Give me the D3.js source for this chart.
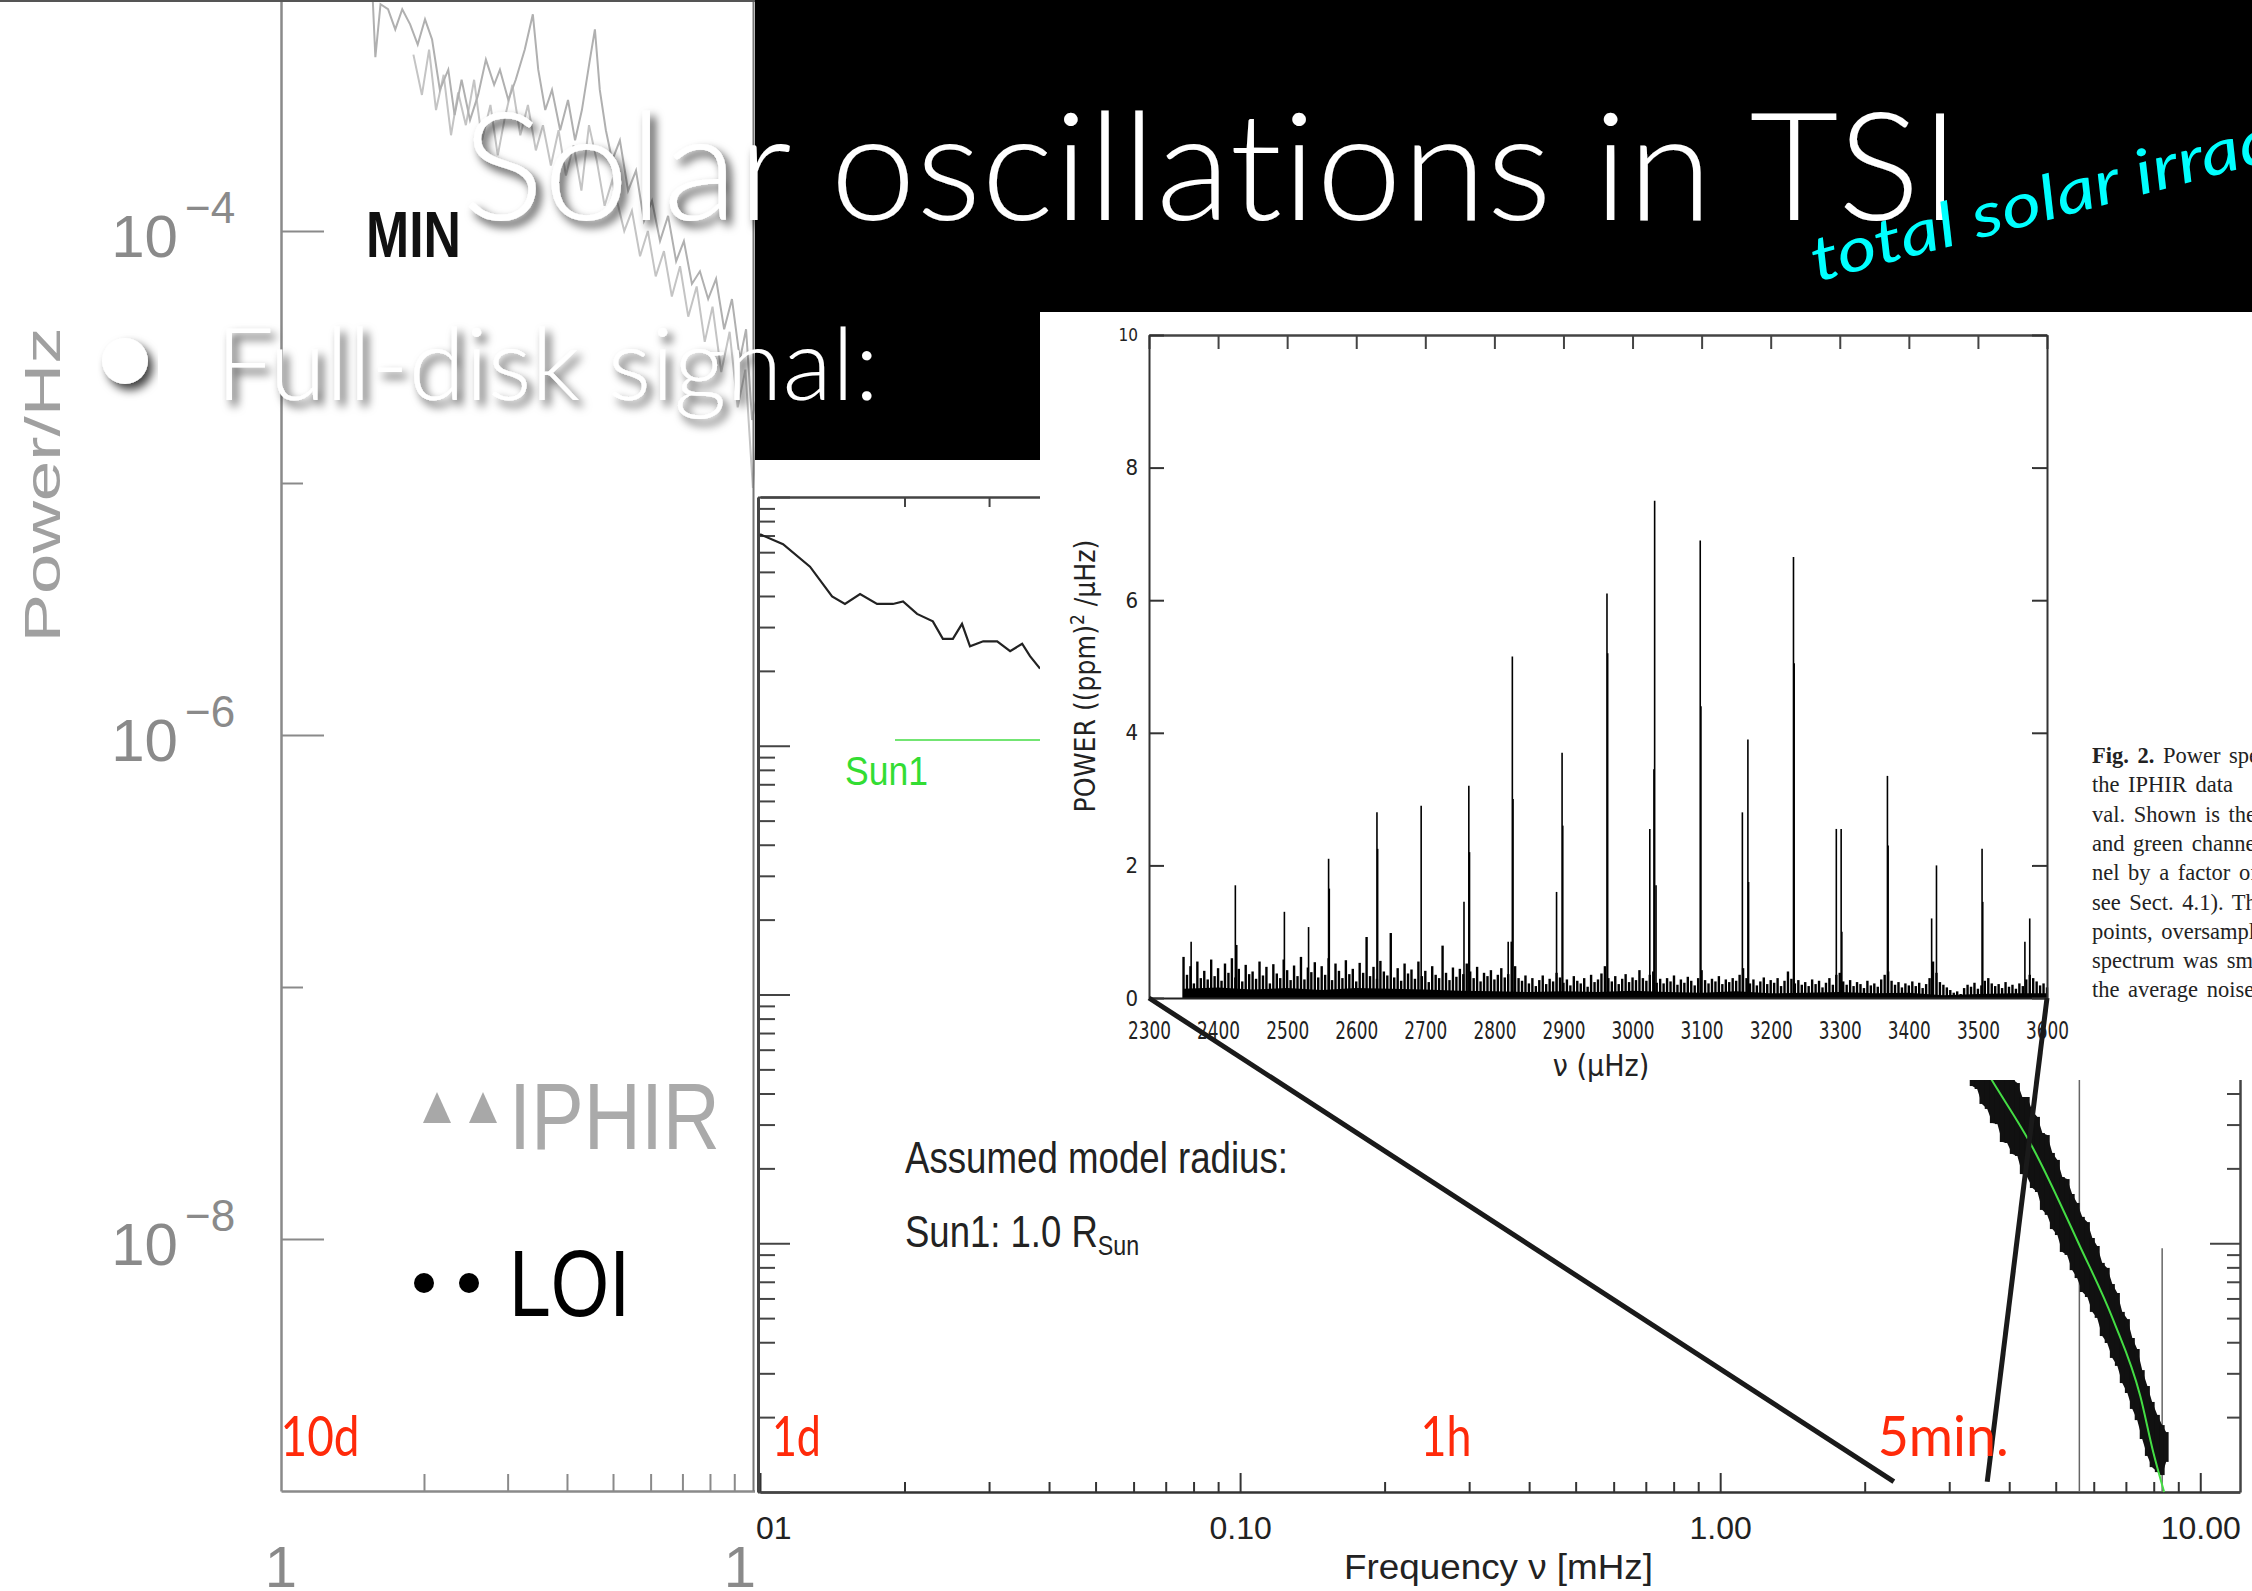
<!DOCTYPE html>
<html>
<head>
<meta charset="utf-8">
<script src="https://cdn.jsdelivr.net/npm/d3@7"></script>
<style>
html, body { margin: 0; padding: 0; background: #fff; overflow: hidden; }
svg { display: block; }
text { font-variant-ligatures: none; font-feature-settings: "liga" 0; }
</style>
</head>
<body>
<div id="chart"></div>
<script>
// ---------- left panel: low frequency spectrum (uHz, log10 power) ----------
const leftFreq = [1.47,1.56,1.58,1.62,1.68,1.74,1.80,1.87,1.94,2.01,2.08,2.16,2.25,2.32,2.40,2.50,2.60,2.70,2.81,2.89,3.01,3.12,3.26,3.39,3.48,3.60,3.72,3.87,4.02,4.16,4.30,4.47,4.58,4.69,4.83,4.98,5.17,5.38,5.59,5.81,6.04,6.28,6.53,6.79,7.05,7.33,7.62,7.93,8.24,8.57,8.90,9.25,9.53,9.81,10.0];
const leftPow = [-3.04,-3.08,-3.31,-3.10,-3.12,-3.20,-3.12,-3.18,-3.26,-3.16,-3.24,-3.44,-3.36,-3.54,-3.40,-3.56,-3.46,-3.32,-3.42,-3.36,-3.48,-3.40,-3.28,-3.14,-3.36,-3.52,-3.44,-3.60,-3.48,-3.64,-3.52,-3.32,-3.20,-3.44,-3.60,-3.72,-3.64,-3.84,-3.76,-3.96,-3.88,-4.04,-3.94,-4.12,-4.04,-4.21,-4.16,-4.27,-4.19,-4.39,-4.27,-4.51,-4.39,-4.75,-4.67];
const leftFreq2 = [1.90,1.98,2.05,2.12,2.20,2.28,2.36,2.45,2.55,2.65,2.76,2.86,2.96,3.07,3.19,3.31,3.44,3.56,3.70,3.84,3.98,4.13,4.29,4.45,4.62,4.80,4.98,5.28,5.48,5.70,5.92,6.15,6.40,6.65,6.92,7.20,7.50,7.80,8.10,8.45,8.80,9.15,9.50,9.85,10.0];
const leftPow2 = [-3.30,-3.46,-3.28,-3.52,-3.38,-3.62,-3.45,-3.58,-3.40,-3.64,-3.50,-3.70,-3.55,-3.42,-3.62,-3.50,-3.68,-3.58,-3.74,-3.60,-3.78,-3.66,-3.84,-3.58,-3.72,-3.90,-3.80,-4.00,-3.92,-4.10,-4.00,-4.18,-4.08,-4.26,-4.14,-4.34,-4.22,-4.44,-4.30,-4.56,-4.40,-4.70,-4.55,-5.02,-4.85];
const leftYMajor = [-4, -6, -8];
const leftYMinor = [-5, -7];
const leftXMinor = [2, 3, 4, 5, 6, 7, 8, 9];
const leftXLabels = ["1", "10"];
const leftXLabelVals = [1, 10];

// ---------- middle panel: full spectrum (mHz, log10 power) ----------
const midFreq = [0.0100,0.01117,0.01271,0.01413,0.01503,0.01616,0.01753,0.01892,0.01986,0.02124,0.02291,0.02404,0.02522,0.02635,0.02738,0.02917,0.03119,0.03319,0.03516,0.03651,0.03831];
const midPow = [3.85,3.81,3.72,3.60,3.57,3.61,3.57,3.57,3.58,3.53,3.50,3.43,3.43,3.49,3.40,3.42,3.42,3.38,3.41,3.36,3.31];
const bandFreq = [3.35,3.43,3.51,3.60,3.69,3.78,3.87,3.96,4.06,4.16,4.26,4.36,4.47,4.58,4.69,4.80,4.92,5.04,5.16,5.28,5.41,5.54,5.68,5.82,5.96,6.10,6.25,6.40,6.56,6.72,6.88,7.05,7.22,7.39,7.57,7.76,7.94,8.14,8.33,8.49];
const bandHi = [1.926,1.914,1.853,1.853,1.797,1.773,1.713,1.717,1.660,1.644,1.588,1.588,1.532,1.508,1.443,1.435,1.363,1.335,1.266,1.258,1.198,1.162,1.106,1.085,1.021,0.989,0.921,0.901,0.836,0.800,0.724,0.695,0.619,0.575,0.490,0.426,0.362,0.310,0.269,0.241];
const bandLo = [1.632,1.620,1.560,1.540,1.483,1.479,1.407,1.403,1.359,1.351,1.278,1.266,1.222,1.206,1.134,1.114,1.057,1.033,0.965,0.953,0.892,0.860,0.804,0.784,0.724,0.700,0.627,0.599,0.539,0.507,0.438,0.398,0.334,0.289,0.213,0.145,0.100,0.080,0.068,0.121];
const fitFreq = [3.20,3.69,4.47,5.60,6.59,7.50,7.98,8.41];
const fitPow = [1.85,1.652,1.387,0.993,0.691,0.386,0.161,0.0];
const refFreq = [5.60, 8.33];
const refTop = [2.2, 0.98];
const midXTicks = [0.01, 0.1, 1, 10];
const midXLabels = ["0.01", "0.10", "1.00", "10.00"];
const periodLabels = ["10d", "1d", "1h", "5min."];
const periodFreq = [1.157, 11.57, 277.8, 3333]; // uHz

// ---------- inset: IPHIR p-mode spectrum ----------
const insetXTicks = [2300,2400,2500,2600,2700,2800,2900,3000,3100,3200,3300,3400,3500,3600];
const insetYTicks = [0, 2, 4, 6, 8, 10];
const peakFreq = [2361,2425,2427,2496,2531,2560,2561,2630,2631,2694,2756,2763,2764,2820,2826,2827,2890,2898,2899,2963,2964,3025,3031,3032,3034,3098,3099,3159,3167,3168,3233,3234,3295,3302,3303,3369,3370,3433,3440,3506,3507,3568,3575];
const peakPow = [0.85,1.7,0.8,1.3,1.07,2.1,1.65,2.8,2.25,2.9,1.45,3.2,2.2,0.85,5.15,3.0,1.6,3.7,2.6,6.1,5.2,2.55,3.45,7.5,1.7,6.9,4.4,2.8,3.9,1.75,6.65,5.05,2.55,2.55,1.0,3.35,2.3,1.2,2.0,2.25,1.45,0.85,1.2];
const noisePow = [
0.62,0.35,0.48,0.22,0.55,0.30,0.41,0.28,0.58,0.33,0.45,0.26,0.52,0.38,0.60,0.31,0.44,0.25,0.50,0.36,
0.40,0.29,0.55,0.34,0.47,0.22,0.51,0.37,0.30,0.58,0.42,0.27,0.49,0.33,0.62,0.28,0.46,0.39,0.54,0.31,
0.48,0.35,0.60,0.27,0.52,0.41,0.30,0.57,0.36,0.44,0.25,0.53,0.38,0.92,0.33,0.47,0.29,0.56,0.40,0.34,
0.98,0.31,0.45,0.26,0.52,0.37,0.43,0.29,0.55,0.33,0.41,0.24,0.48,0.35,0.30,0.79,0.38,0.27,0.46,0.32,
0.44,0.36,0.52,0.40,0.30,0.47,0.25,0.38,0.33,0.42,0.28,0.35,0.45,0.31,0.36,0.85,0.48,0.30,0.26,0.34,
0.22,0.30,0.18,0.27,0.34,0.21,0.29,0.25,0.38,0.31,0.23,0.28,0.19,0.33,0.26,0.22,0.30,0.17,0.35,0.24,
0.28,0.37,0.48,0.30,0.25,0.33,0.21,0.29,0.36,0.24,0.31,0.27,0.42,0.30,0.26,0.35,0.40,0.23,0.29,0.22,
0.30,0.25,0.34,0.20,0.28,0.23,0.32,0.26,0.19,0.30,0.42,0.27,0.22,0.29,0.25,0.33,0.21,0.28,0.24,0.30,
0.26,0.35,0.45,0.30,0.22,0.28,0.19,0.25,0.31,0.21,0.27,0.23,0.30,0.18,0.26,0.40,0.29,0.22,0.27,0.20,
0.24,0.18,0.28,0.21,0.26,0.16,0.23,0.30,0.20,0.35,0.38,0.25,0.20,0.27,0.18,0.24,0.21,0.15,0.26,0.19,
0.22,0.17,0.28,0.35,0.40,0.26,0.20,0.24,0.16,0.22,0.19,0.25,0.18,0.23,0.15,0.21,0.30,0.55,0.38,0.24,
0.20,0.16,0.12,0.08,0.10,0.06,0.15,0.20,0.17,0.23,0.14,0.19,0.26,0.30,0.22,0.18,0.21,0.15,0.24,0.17,
0.20,0.14,0.22,0.18,0.28,0.35,0.30,0.25,0.19,0.22,0.16];
const noiseFreq = d3.range(2350, 3601, 5);
const floorPow = [0.14,0.16,0.13,0.15,0.12,0.15,0.14,0.13,0.11,0.10,0.09,0.10,0.09,0.11,0.09,0.08,0.10,0.07,0.08,0.09,0.07,0.08,0.04,0.06,0.07,0.07];
const floorFreq = d3.range(2350, 3601, 50);
const captionLines = ["Power spectrum", "the IPHIR data", "val. Shown is the", "and green channel", "nel by a factor of", "see Sect. 4.1). The", "points, oversampled", "spectrum was smoothed", "the average noise"];

function buildSlide() {

let W = 2252, H = 1591;
let sans = "'Liberation Sans', Arial, sans-serif";
let gill = "Lato, 'Open Sans', sans-serif";

let svg = d3.select("#chart").append("svg")
    .attr("width", W)
    .attr("height", H);

let defs = svg.append("defs");
defs.append("filter").attr("id", "shadow")
    .attr("x", "-10%").attr("y", "-40%").attr("width", "130%").attr("height", "190%")
    .append("feDropShadow")
    .attr("dx", 5).attr("dy", 6).attr("stdDeviation", 5)
    .attr("flood-color", "#000").attr("flood-opacity", 0.75);
defs.append("clipPath").attr("id", "clipLeft")
    .append("rect").attr("x", 0).attr("y", 0).attr("width", 755).attr("height", H);
defs.append("clipPath").attr("id", "clipMid")
    .append("rect").attr("x", 755).attr("y", 0).attr("width", W - 755).attr("height", H);

svg.append("rect").attr("width", W).attr("height", H).attr("fill", "#fff");

//---------------- middle plot ----------------
let midX = d3.scaleLog().domain([0.01, 12.1]).range([760, 2240]);
let midY = d3.scaleLog().domain([1, 1e4]).range([1492, 497]);
let mid = svg.append("g").attr("clip-path", "url(#clipMid)");

let midMinorX = [];
[0.01, 0.1, 1].forEach(d => { for (let k = 2; k <= 9; k++) midMinorX.push(d * k); });
let midMajorY = [1, 10, 100, 1000, 10000];
let midMinorY = [];
[1, 10, 100, 1000].forEach(d => { for (let k = 2; k <= 9; k++) midMinorY.push(d * k); });

function styleAxis(g, w) {
    g.select(".domain").attr("stroke-width", w);
    g.selectAll(".tick line").attr("stroke-width", 2);
}

let gxb = mid.append("g")
    .attr("transform", "translate(0,1492)")
    .attr("color", "#333")
    .call(d3.axisBottom(midX).tickValues(midXTicks).tickFormat((d, i) => midXLabels[i])
        .tickSizeInner(-19).tickSizeOuter(0).tickPadding(24));
styleAxis(gxb, 2.5);
gxb.selectAll("text").attr("font-family", sans).attr("font-size", 32).attr("fill", "#222");

mid.append("g").attr("transform", "translate(0,1492)").attr("color", "#333")
    .call(d3.axisBottom(midX).tickValues(midMinorX).tickFormat("").tickSizeInner(-10).tickSizeOuter(0))
    .call(g => styleAxis(g, 0));

mid.append("g").attr("transform", "translate(0,497)").attr("color", "#444")
    .call(d3.axisTop(midX).tickValues(midMinorX).tickFormat("").tickSizeInner(-10).tickSizeOuter(0))
    .call(g => styleAxis(g, 2.5));

mid.append("g").attr("transform", "translate(758,0)").attr("color", "#444")
    .call(d3.axisLeft(midY).tickValues(midMajorY).tickFormat("").tickSizeInner(-32).tickSizeOuter(0))
    .call(g => styleAxis(g, 3));
mid.append("g").attr("transform", "translate(758,0)").attr("color", "#444")
    .call(d3.axisLeft(midY).tickValues(midMinorY).tickFormat("").tickSizeInner(-17).tickSizeOuter(0))
    .call(g => styleAxis(g, 0));

mid.append("g").attr("transform", "translate(2240,0)").attr("color", "#444")
    .call(d3.axisRight(midY).tickValues(midMajorY).tickFormat("").tickSizeInner(-30).tickSizeOuter(0))
    .call(g => styleAxis(g, 2.5));
mid.append("g").attr("transform", "translate(2240,0)").attr("color", "#444")
    .call(d3.axisRight(midY).tickValues(midMinorY).tickFormat("").tickSizeInner(-13).tickSizeOuter(0))
    .call(g => styleAxis(g, 0));

// low-frequency part of the curve
let midLine = d3.line()
    .x((d, i) => midX(midFreq[i]))
    .y(d => midY(Math.pow(10, d)));
mid.append("path")
    .datum(midPow)
    .attr("d", midLine)
    .attr("fill", "none")
    .attr("stroke", "#222")
    .attr("stroke-width", 2.2);

// reference lines
mid.selectAll(".ref")
    .data(refFreq)
    .enter()
    .append("line")
    .attr("x1", d => midX(d)).attr("x2", d => midX(d))
    .attr("y1", midY(1))
    .attr("y2", (d, i) => midY(Math.pow(10, refTop[i])))
    .attr("stroke", "#666")
    .attr("stroke-width", 1.5);

// noisy p-mode band
let bandArea = d3.area()
    .x((d, i) => midX(bandFreq[i]))
    .y0((d, i) => midY(Math.pow(10, bandLo[i])))
    .y1(d => midY(Math.pow(10, d)));
mid.append("path").datum(bandHi).attr("d", bandArea).attr("fill", "#111");
mid.selectAll(".band")
    .data(bandHi)
    .enter()
    .append("line")
    .attr("x1", (d, i) => midX(bandFreq[i])).attr("x2", (d, i) => midX(bandFreq[i]))
    .attr("y1", d => midY(Math.pow(10, d)))
    .attr("y2", (d, i) => midY(Math.pow(10, bandLo[i])))
    .attr("stroke", "#111")
    .attr("stroke-width", 5);

// fit
let fitLine = d3.line()
    .x((d, i) => midX(fitFreq[i]))
    .y(d => midY(Math.pow(10, d)))
    .curve(d3.curveMonotoneX);
mid.append("path")
    .datum(fitPow)
    .attr("d", fitLine)
    .attr("fill", "none")
    .attr("stroke", "#44dd44")
    .attr("stroke-width", 2);

// legend and notes
mid.append("line")
    .attr("x1", 895).attr("x2", 1040).attr("y1", 740).attr("y2", 740)
    .attr("stroke", "#44dd44").attr("stroke-width", 1.5);
mid.append("text")
    .attr("x", 845).attr("y", 785)
    .attr("font-family", sans).attr("font-size", 40)
    .attr("textLength", 83).attr("lengthAdjust", "spacingAndGlyphs")
    .attr("fill", "#33dd33")
    .text("Sun1");

mid.append("text")
    .attr("x", 905).attr("y", 1173)
    .attr("font-family", sans).attr("font-size", 44)
    .attr("textLength", 383).attr("lengthAdjust", "spacingAndGlyphs")
    .attr("fill", "#222")
    .text("Assumed model radius:");

let sunText = mid.append("text")
    .attr("transform", "translate(905,1247) scale(0.83,1)")
    .attr("font-family", sans).attr("font-size", 44)
    .attr("fill", "#222");
sunText.append("tspan").text("Sun1: 1.0 R");
sunText.append("tspan").attr("font-size", 28).attr("dy", 8).text("Sun");

mid.append("text")
    .attr("x", 1344).attr("y", 1579)
    .attr("font-family", sans).attr("font-size", 35)
    .attr("textLength", 309).attr("lengthAdjust", "spacingAndGlyphs")
    .attr("fill", "#222")
    .text("Frequency \u03bd [mHz]");

//---------------- left plot ----------------
let leftX = d3.scaleLog().domain([1, 10]).range([281, 756]);
let leftY = d3.scaleLog().domain([1e-9, 1e-3]).range([1491, -21]);
let left = svg.append("g").attr("clip-path", "url(#clipLeft)");

let leftLine = d3.line()
    .x((d, i) => leftX(leftFreq[i]))
    .y(d => leftY(Math.pow(10, d)));
let leftLine2 = d3.line()
    .x((d, i) => leftX(leftFreq2[i]))
    .y(d => leftY(Math.pow(10, d)));
left.append("path").datum(leftPow2).attr("d", leftLine2)
    .attr("fill", "none").attr("stroke", "#c4c4c4").attr("stroke-width", 2);
left.append("path").datum(leftPow).attr("d", leftLine)
    .attr("fill", "none").attr("stroke", "#b0b0b0").attr("stroke-width", 2);

left.append("g").attr("transform", "translate(281,0)").attr("color", "#8a8a8a")
    .call(d3.axisLeft(leftY).tickValues(leftYMajor.map(e => Math.pow(10, e))).tickFormat("")
        .tickSizeInner(-43).tickSizeOuter(0))
    .call(g => styleAxis(g, 2.5));
left.append("g").attr("transform", "translate(281,0)").attr("color", "#8a8a8a")
    .call(d3.axisLeft(leftY).tickValues(leftYMinor.map(e => Math.pow(10, e))).tickFormat("")
        .tickSizeInner(-22).tickSizeOuter(0))
    .call(g => styleAxis(g, 0));
left.append("g").attr("transform", "translate(0,1491)").attr("color", "#8a8a8a")
    .call(d3.axisBottom(leftX).tickValues(leftXMinor).tickFormat("").tickSizeInner(-17).tickSizeOuter(0))
    .call(g => styleAxis(g, 2.5));
left.append("line")
    .attr("x1", 753.5).attr("x2", 753.5).attr("y1", 0).attr("y2", 1491)
    .attr("stroke", "#777").attr("stroke-width", 2);
left.append("line")
    .attr("x1", 0).attr("x2", 755).attr("y1", 1).attr("y2", 1)
    .attr("stroke", "#555").attr("stroke-width", 2);

// y tick labels 10^-n
left.selectAll(".ylab")
    .data(leftYMajor)
    .enter()
    .append("text")
    .attr("x", 178)
    .attr("y", d => leftY(Math.pow(10, d)) + 26)
    .attr("text-anchor", "end")
    .attr("font-family", sans)
    .attr("font-size", 60)
    .attr("fill", "#8a8a8a")
    .text("10");
left.selectAll(".ysup")
    .data(leftYMajor)
    .enter()
    .append("text")
    .attr("x", 185)
    .attr("y", d => leftY(Math.pow(10, d)) - 8)
    .attr("font-family", sans)
    .attr("font-size", 44)
    .attr("fill", "#8a8a8a")
    .text(d => "\u2212" + Math.abs(d));

left.selectAll(".xlab")
    .data(leftXLabels)
    .enter()
    .append("text")
    .attr("x", (d, i) => leftX(leftXLabelVals[i]))
    .attr("y", 1587)
    .attr("text-anchor", "middle")
    .attr("font-family", sans)
    .attr("font-size", 58)
    .attr("fill", "#8a8a8a")
    .text(d => d);

left.append("text")
    .attr("transform", "translate(60,485) rotate(-90)")
    .attr("text-anchor", "middle")
    .attr("font-family", sans)
    .attr("font-size", 50)
    .attr("textLength", 315).attr("lengthAdjust", "spacingAndGlyphs")
    .attr("fill", "#a0a0a0")
    .text("Power/Hz");

left.append("text")
    .attr("x", 366).attr("y", 257)
    .attr("font-family", sans).attr("font-weight", "bold").attr("font-size", 64)
    .attr("textLength", 95).attr("lengthAdjust", "spacingAndGlyphs")
    .attr("fill", "#111")
    .text("MIN");

// legend
left.selectAll(".tri")
    .data([437, 483])
    .enter()
    .append("path")
    .attr("d", d => `M${d - 14},1123 L${d},1092 L${d + 14},1123 Z`)
    .attr("fill", "#a8a8a8");
left.append("text")
    .attr("x", 509).attr("y", 1149)
    .attr("font-family", sans).attr("font-size", 95)
    .attr("textLength", 211).attr("lengthAdjust", "spacingAndGlyphs")
    .attr("fill", "#aaaaaa")
    .text("IPHIR");
left.selectAll(".dot")
    .data([424, 469])
    .enter()
    .append("circle")
    .attr("cx", d => d).attr("cy", 1283).attr("r", 10)
    .attr("fill", "#000");
left.append("text")
    .attr("x", 509).attr("y", 1316)
    .attr("font-family", sans).attr("font-size", 95)
    .attr("textLength", 121).attr("lengthAdjust", "spacingAndGlyphs")
    .attr("fill", "#000")
    .text("LOI");

//---------------- black title band ----------------
svg.append("rect").attr("x", 755).attr("y", 0).attr("width", W - 755).attr("height", 312).attr("fill", "#000");
svg.append("rect").attr("x", 755).attr("y", 312).attr("width", 285).attr("height", 148).attr("fill", "#000");

//---------------- inset ----------------
let insetX = d3.scaleLinear().domain([2300, 3600]).range([1149, 2047]);
let insetY = d3.scaleLinear().domain([0, 10]).range([998, 335]);
let inset = svg.append("g");
inset.append("rect").attr("x", 1040).attr("y", 312).attr("width", W - 1040).attr("height", 768).attr("fill", "#fff");

let condensed = "'DejaVu Sans Condensed', 'DejaVu Sans', sans-serif";

// noise floor + noise spikes
let floorArea = d3.area()
    .x((d, i) => insetX(floorFreq[i]))
    .y0(insetY(0))
    .y1(d => insetY(d));
inset.append("path").datum(floorPow).attr("d", floorArea).attr("fill", "#000");

inset.append("g").selectAll("line")
    .data(noisePow)
    .enter()
    .append("line")
    .attr("x1", (d, i) => insetX(noiseFreq[i]))
    .attr("x2", (d, i) => insetX(noiseFreq[i]))
    .attr("y1", insetY(0))
    .attr("y2", d => insetY(d))
    .attr("stroke", "#000")
    .attr("stroke-width", 2.4);

inset.append("g").selectAll("line")
    .data(peakPow)
    .enter()
    .append("line")
    .attr("x1", (d, i) => insetX(peakFreq[i]))
    .attr("x2", (d, i) => insetX(peakFreq[i]))
    .attr("y1", insetY(0))
    .attr("y2", d => insetY(d))
    .attr("stroke", "#000")
    .attr("stroke-width", 1.6);

let ixb = inset.append("g").attr("transform", "translate(0,998)").attr("color", "#222")
    .call(d3.axisBottom(insetX).tickValues(insetXTicks).tickFormat(d3.format("d"))
        .tickSizeInner(0).tickSizeOuter(0).tickPadding(24));
styleAxis(ixb, 2);
ixb.selectAll("text").attr("font-family", condensed).attr("font-size", 24)
    .attr("textLength", 43).attr("lengthAdjust", "spacingAndGlyphs").attr("fill", "#222");

inset.append("g").attr("transform", "translate(0,335)").attr("color", "#444")
    .call(d3.axisTop(insetX).tickValues(insetXTicks).tickFormat("").tickSizeInner(-14).tickSizeOuter(0))
    .call(g => styleAxis(g, 2.5));

let iyl = inset.append("g").attr("transform", "translate(1149,0)").attr("color", "#333")
    .call(d3.axisLeft(insetY).tickValues(insetYTicks).tickSizeInner(-15).tickSizeOuter(0).tickPadding(11));
styleAxis(iyl, 2);
iyl.selectAll("text").attr("font-family", condensed).attr("font-size", 22).attr("fill", "#222");
iyl.selectAll("text").filter(d => d === 10).attr("font-size", 17);

inset.append("g").attr("transform", "translate(2047,0)").attr("color", "#333")
    .call(d3.axisRight(insetY).tickValues(insetYTicks).tickFormat("").tickSizeInner(-15).tickSizeOuter(0))
    .call(g => styleAxis(g, 2));

// axis titles
inset.append("text")
    .attr("x", 1601).attr("y", 1076)
    .attr("text-anchor", "middle")
    .attr("font-family", condensed).attr("font-size", 30)
    .attr("fill", "#222")
    .text("\u03bd (\u00b5Hz)");

let powLabel = inset.append("text")
    .attr("transform", "translate(1095,676) rotate(-90)")
    .attr("text-anchor", "middle")
    .attr("font-family", condensed).attr("font-size", 28)
    .attr("fill", "#222");
powLabel.append("tspan").text("POWER ((ppm)");
powLabel.append("tspan").attr("font-size", 19).attr("dy", -11).text("2");
powLabel.append("tspan").attr("dy", 11).text(" /\u00b5Hz)");

// figure caption (cut by the slide edge)
let cap = inset.append("text")
    .attr("font-family", "'Liberation Serif', 'Times New Roman', serif")
    .attr("font-size", 22.5)
    .attr("word-spacing", 3)
    .attr("fill", "#222");
cap.selectAll("tspan")
    .data(captionLines)
    .enter()
    .append("tspan")
    .attr("x", 2092)
    .attr("y", (d, i) => 763 + i * 29.3)
    .each(function(d, i) {
        if (i === 0) {
            d3.select(this).append("tspan").attr("font-weight", "bold").text("Fig. 2. ");
        }
        d3.select(this).append("tspan").text(d);
    });

//---------------- zoom connectors ----------------
let zoomEnds = [2300, 3600];
svg.selectAll(".zoom")
    .data(zoomEnds)
    .enter()
    .append("line")
    .attr("x1", d => insetX(d))
    .attr("y1", insetY(0))
    .attr("x2", d => midX(d / 1000))
    .attr("y2", midY(1.1))
    .attr("stroke", "#1a1a1a")
    .attr("stroke-width", 5);

//---------------- period labels ----------------
svg.selectAll(".period")
    .data(periodLabels)
    .enter()
    .append("text")
    .attr("x", (d, i) => i === 0 ? leftX(periodFreq[i]) : midX(periodFreq[i] / 1000))
    .attr("dx", (d, i) => [9, 6, -7, -28][i])
    .attr("y", 1456)
    .attr("text-anchor", "middle")
    .attr("font-family", gill)
    .attr("font-size", 56)
    .attr("textLength", (d, i) => [79, 49, 51, 131][i])
    .attr("lengthAdjust", "spacingAndGlyphs")
    .attr("fill", "#ff2a0a")
    .text(d => d);

//---------------- slide title and bullet ----------------
svg.append("text")
    .attr("x", 462).attr("y", 220)
    .attr("font-family", gill).attr("font-weight", 300).attr("font-size", 150)
    .attr("textLength", 1498).attr("lengthAdjust", "spacingAndGlyphs")
    .attr("fill", "#fff")
    .attr("filter", "url(#shadow)")
    .text("Solar oscillations in TSI");

svg.append("circle")
    .attr("cx", 125).attr("cy", 361).attr("r", 23)
    .attr("fill", "#fff")
    .attr("filter", "url(#shadow)");

svg.append("text")
    .attr("x", 216).attr("y", 400)
    .attr("font-family", gill).attr("font-weight", 300).attr("font-size", 100)
    .attr("textLength", 663).attr("lengthAdjust", "spacingAndGlyphs")
    .attr("fill", "#fff")
    .attr("filter", "url(#shadow)")
    .text("Full-disk signal:");

svg.append("text")
    .attr("transform", "translate(1817,282) rotate(-15)")
    .attr("font-family", gill).attr("font-style", "italic").attr("font-size", 62)
    .attr("textLength", 650).attr("lengthAdjust", "spacingAndGlyphs")
    .attr("fill", "#00ffff")
    .text("total solar irradiance");
}

buildSlide();
</script>
</body>
</html>
